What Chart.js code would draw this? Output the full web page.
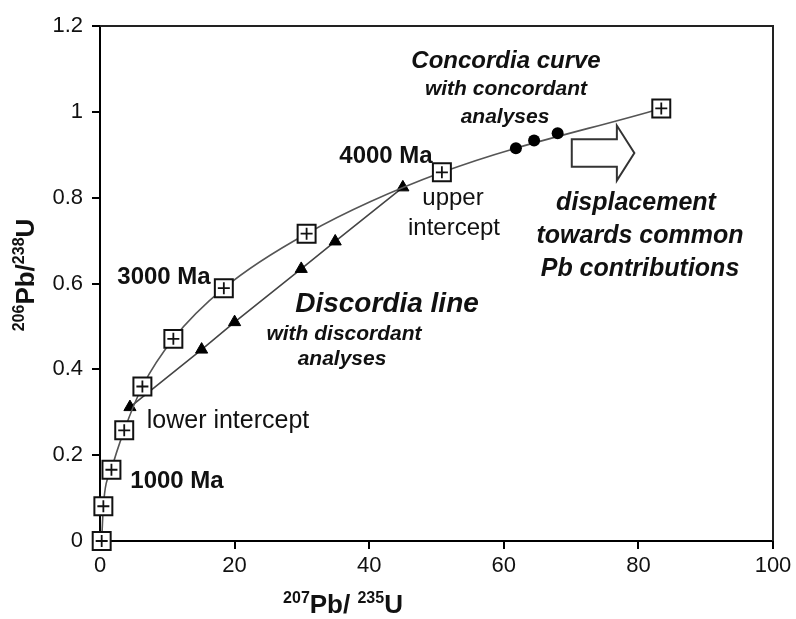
<!DOCTYPE html>
<html lang="en">
<head>
<meta charset="UTF-8">
<title>Concordia diagram</title>
<script src="https://cdn.jsdelivr.net/npm/chart.js@4"></script>
<style>
  html, body { margin: 0; padding: 0; background: #fff; }
  #wrap { width: 796px; height: 619px; }
</style>
</head>
<body>
<div id="wrap"><canvas id="chart"></canvas></div>
<script>
// concordia curve: reference ages (squares with a cross)
const concX = [0.25, 0.5, 1.7, 3.6, 6.3, 10.9, 18.4, 30.7, 50.8, 83.4];
const concY = [0, 0.081, 0.166, 0.258, 0.36, 0.471, 0.589, 0.716, 0.859, 1.008];
// concordant analyses (black dots)
const dotX = [61.8, 64.5, 68.0];
const dotY = [0.915, 0.933, 0.950];
// discordant analyses along the discordia line (triangles)
const discX = [4.45, 15.1, 20.0, 29.9, 34.95, 45.0];
const discY = [0.312, 0.446, 0.510, 0.634, 0.698, 0.824];
// axis ticks
const xTicks = [0, 20, 40, 60, 80, 100];
const yTicks = [0, 0.2, 0.4, 0.6, 0.8, 1, 1.2];

const FONT = "'Liberation Sans', Arial, sans-serif";
const pts = (xs, ys) => xs.map((x, i) => ({ x: x, y: ys[i] }));

// text annotations (pixel positions, text middle)
const notes = [
  { t: 'Concordia curve', x: 506, y: 61, f: 'italic bold 24px' },
  { t: 'with concordant', x: 506, y: 89, f: 'italic bold 21px' },
  { t: 'analyses', x: 505, y: 117, f: 'italic bold 21px' },
  { t: '4000 Ma', x: 386, y: 156, f: 'bold 24px' },
  { t: 'upper', x: 453, y: 198, f: '24px' },
  { t: 'intercept', x: 454, y: 228, f: '24px' },
  { t: 'displacement', x: 636, y: 203, f: 'italic bold 25px' },
  { t: 'towards common', x: 640, y: 236, f: 'italic bold 25px' },
  { t: 'Pb contributions', x: 640, y: 269, f: 'italic bold 25px' },
  { t: '3000 Ma', x: 164, y: 277, f: 'bold 24px' },
  { t: 'Discordia line', x: 387, y: 304, f: 'italic bold 28px' },
  { t: 'with discordant', x: 344, y: 334, f: 'italic bold 21px' },
  { t: 'analyses', x: 342, y: 359, f: 'italic bold 21px' },
  { t: 'lower intercept', x: 228, y: 421, f: '25px' },
  { t: '1000 Ma', x: 177, y: 481, f: 'bold 24px' }
];

// hollow arrow in data units
const arrow = { x0: 70.1, x1: 76.8, x2: 79.4, y: 0.904, body: 0.032, head: 0.064 };

// draws a label made of normal and superscript pieces, centred on 0,0
function drawSupText(ctx, parts) {
  let w = 0;
  parts.forEach(p => {
    ctx.font = 'bold ' + (p.sup ? 16 : 26) + 'px ' + FONT;
    p.w = ctx.measureText(p.t).width;
    w += p.w;
  });
  let x = -w / 2;
  ctx.textBaseline = 'alphabetic';
  ctx.textAlign = 'left';
  parts.forEach(p => {
    ctx.font = 'bold ' + (p.sup ? 16 : 26) + 'px ' + FONT;
    ctx.fillText(p.t, x, p.sup ? -1 : 9);
    x += p.w;
  });
}

const extras = {
  id: 'extras',
  beforeDatasetsDraw(chart) {
    const ctx = chart.ctx, a = chart.chartArea;
    ctx.save();
    ctx.strokeStyle = '#222';
    ctx.lineWidth = 2;
    ctx.beginPath();
    ctx.moveTo(a.left, a.top);
    ctx.lineTo(a.right, a.top);
    ctx.lineTo(a.right, a.bottom);
    ctx.stroke();
    ctx.restore();
  },
  afterDatasetsDraw(chart) {
    const ctx = chart.ctx, sx = chart.scales.x, sy = chart.scales.y;
    ctx.save();

    // arrow
    const X = v => sx.getPixelForValue(v), Y = v => sy.getPixelForValue(v);
    ctx.beginPath();
    ctx.moveTo(X(arrow.x0), Y(arrow.y + arrow.body));
    ctx.lineTo(X(arrow.x1), Y(arrow.y + arrow.body));
    ctx.lineTo(X(arrow.x1), Y(arrow.y + arrow.head));
    ctx.lineTo(X(arrow.x2), Y(arrow.y));
    ctx.lineTo(X(arrow.x1), Y(arrow.y - arrow.head));
    ctx.lineTo(X(arrow.x1), Y(arrow.y - arrow.body));
    ctx.lineTo(X(arrow.x0), Y(arrow.y - arrow.body));
    ctx.closePath();
    ctx.fillStyle = '#fff';
    ctx.fill();
    ctx.strokeStyle = '#333';
    ctx.lineWidth = 2;
    ctx.stroke();

    // annotations
    ctx.fillStyle = '#111';
    ctx.textAlign = 'center';
    ctx.textBaseline = 'middle';
    notes.forEach(n => {
      ctx.font = n.f + ' ' + FONT;
      ctx.fillText(n.t, n.x, n.y);
    });

    // axis titles
    ctx.save();
    ctx.translate(343, 604);
    drawSupText(ctx, [{ t: '207', sup: true }, { t: 'Pb/ ' }, { t: '235', sup: true }, { t: 'U' }]);
    ctx.restore();
    ctx.save();
    ctx.translate(25, 275);
    ctx.rotate(-Math.PI / 2);
    drawSupText(ctx, [{ t: '206', sup: true }, { t: 'Pb/' }, { t: '238', sup: true }, { t: 'U' }]);
    ctx.restore();

    ctx.restore();
  }
};

const tickFont = { family: FONT, size: 22 };

new Chart(document.getElementById('chart'), {
  type: 'scatter',
  data: {
    datasets: [
      {
        label: 'concordia',
        data: pts(concX, concY),
        showLine: true,
        cubicInterpolationMode: 'monotone',
        borderColor: '#555',
        borderWidth: 1.6,
        pointStyle: 'rect',
        pointRadius: 12.7,
        pointBorderWidth: 2,
        pointBorderColor: '#111',
        pointBackgroundColor: '#fff',
        clip: false,
        order: 2
      },
      {
        label: 'crosses',
        data: pts(concX, concY),
        pointStyle: 'cross',
        pointRadius: 6,
        pointBorderWidth: 1.8,
        pointBorderColor: '#111',
        clip: false,
        order: 1
      },
      {
        label: 'discordia',
        data: pts(discX, discY),
        showLine: true,
        borderColor: '#444',
        borderWidth: 1.6,
        pointStyle: 'triangle',
        pointRadius: 7,
        pointBorderWidth: 1,
        pointBorderColor: '#000',
        pointBackgroundColor: '#000',
        clip: false,
        order: 3
      },
      {
        label: 'concordant',
        data: pts(dotX, dotY),
        pointStyle: 'circle',
        pointRadius: 6,
        pointBorderWidth: 0,
        pointBackgroundColor: '#000',
        clip: false,
        order: 0
      }
    ]
  },
  options: {
    responsive: true,
    maintainAspectRatio: false,
    animation: false,
    layout: { padding: { left: 0, right: 23, top: 26, bottom: 0 } },
    plugins: { legend: { display: false }, tooltip: { enabled: false } },
    scales: {
      x: {
        type: 'linear',
        min: 0,
        max: 100,
        afterBuildTicks: s => { s.ticks = xTicks.map(v => ({ value: v })); },
        afterFit: s => { s.height = 78; },
        ticks: { font: tickFont, color: '#111', padding: 4, maxRotation: 0 },
        grid: { drawOnChartArea: false, drawTicks: true, tickLength: 8, color: '#000', lineWidth: 2 },
        border: { display: true, color: '#000', width: 2 }
      },
      y: {
        type: 'linear',
        min: 0,
        max: 1.2,
        afterBuildTicks: s => { s.ticks = yTicks.map(v => ({ value: v })); },
        afterFit: s => { s.width = 100; },
        ticks: { font: tickFont, color: '#111', padding: 9, callback: v => String(v) },
        grid: { drawOnChartArea: false, drawTicks: true, tickLength: 8, color: '#000', lineWidth: 2 },
        border: { display: true, color: '#000', width: 2 }
      }
    }
  },
  plugins: [extras]
});
</script>
</body>
</html>
